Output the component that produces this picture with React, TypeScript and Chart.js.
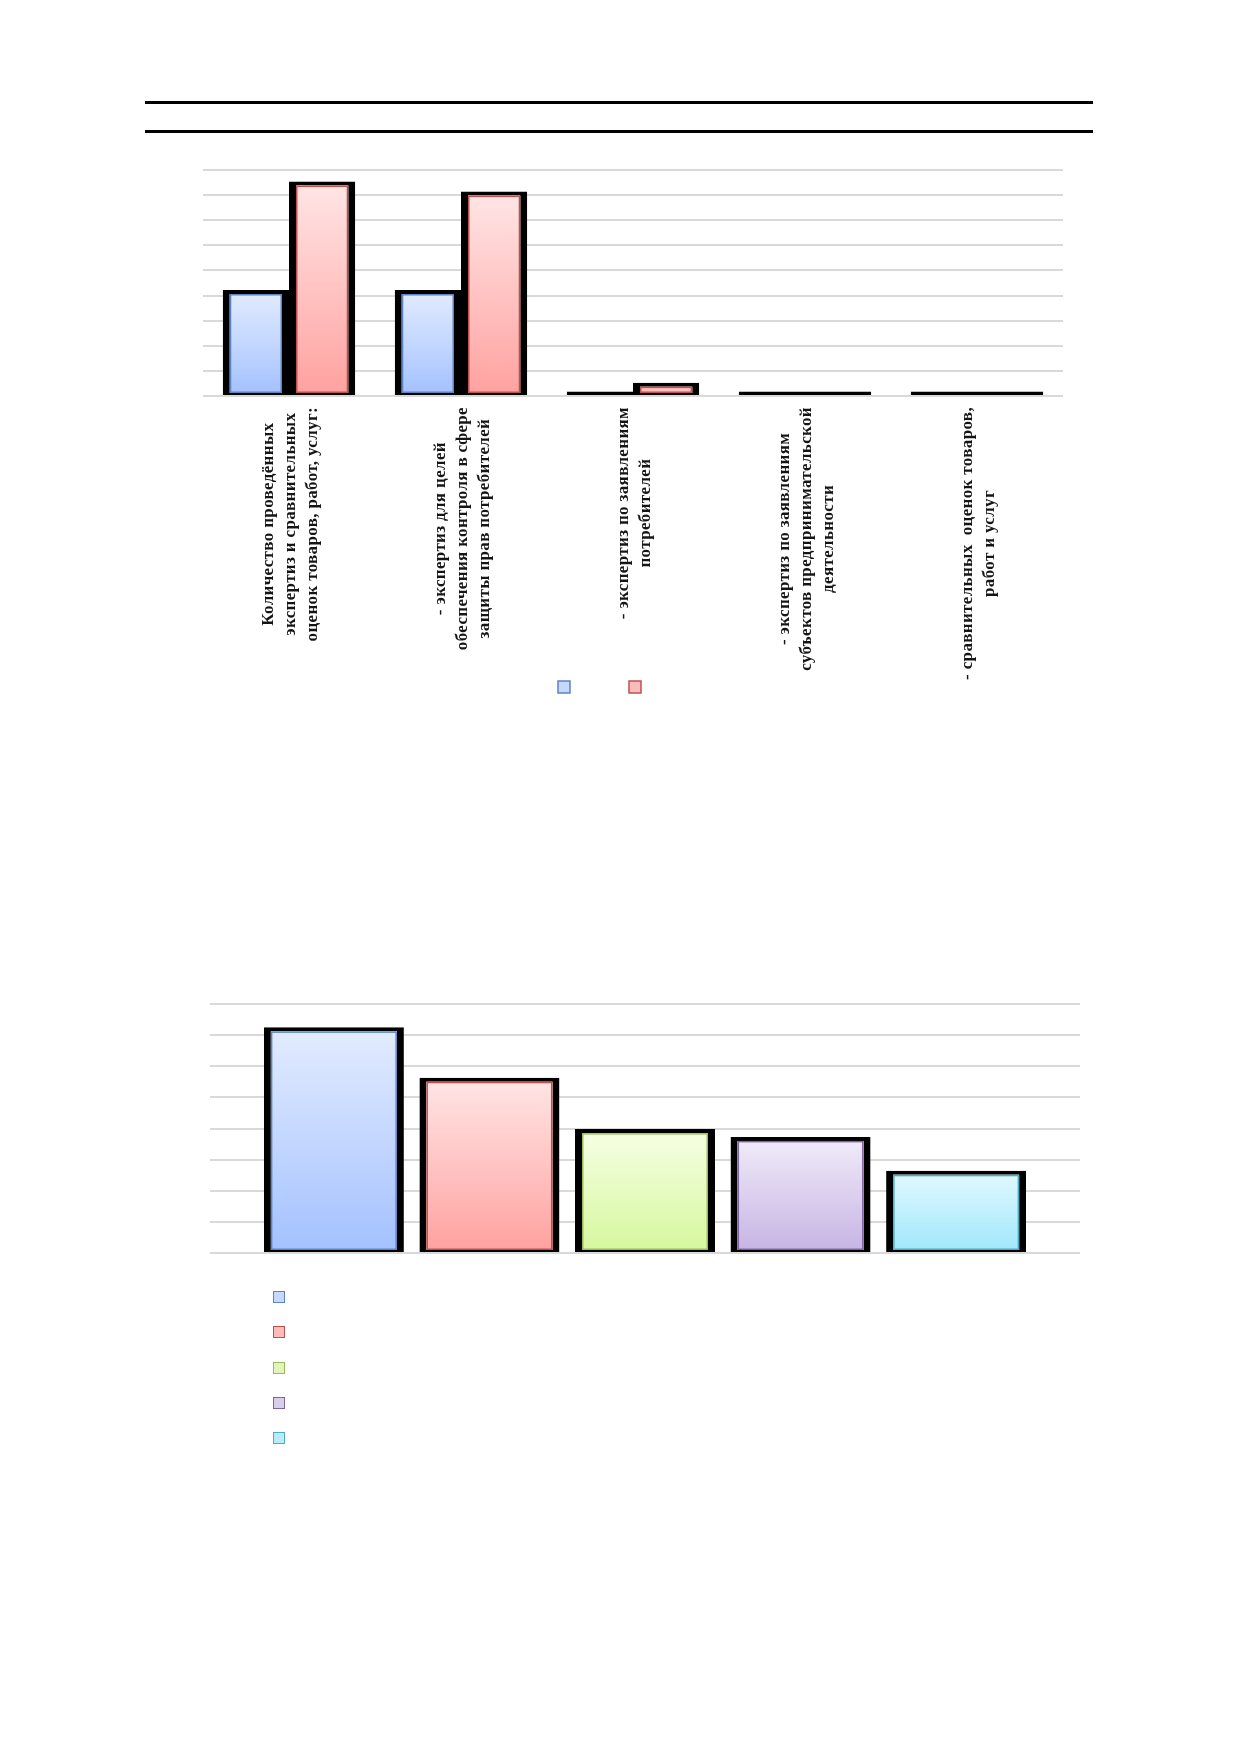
import React, { useEffect, useRef } from 'react';
import { Chart, registerables } from 'chart.js';
import type { ChartConfiguration, Plugin, ScriptableContext } from 'chart.js';

Chart.register(...registerables);

// ---- top chart data ----
const categories: string[][] = [
  ['Количество проведённых', 'экспертиз и сравнительных', 'оценок товаров, работ, услуг:'],
  ['- экспертиз для целей', 'обеспечения контроля в сфере', 'защиты прав потребителей'],
  ['- экспертиз по заявлениям', 'потребителей'],
  ['- экспертиз по заявлениям', 'субъектов предпринимательской', 'деятельности'],
  ['- сравнительных  оценок товаров,', 'работ и услуг'],
];
const topSeriesNames = ['', ''];
const topSeriesFirst = [4.22, 4.22, 0.18, 0.18, 0.18];
const topSeriesSecond = [8.54, 8.14, 0.53, 0.18, 0.18];
const topAxisMax = 9;

// ---- bottom chart data ----
const bottomCategory = [''];
const bottomSeriesNames = ['', '', '', '', ''];
const bottomValues = [7.25, 5.63, 3.98, 3.73, 2.64];
const bottomAxisMax = 8;

const palette = [
  { top: '#e3ecff', bottom: '#a3c1ff', edge: '#5a84c4', box: '#c6d8fc' },
  { top: '#ffe6e6', bottom: '#ffa19f', edge: '#c0504d', box: '#f9bcbb' },
  { top: '#f6ffe6', bottom: '#d6f79c', edge: '#9bbb59', box: '#e2f4bb' },
  { top: '#f1ecf9', bottom: '#c6b3e4', edge: '#8064a2', box: '#d8cdeb' },
  { top: '#e3f9ff', bottom: '#9fe7fb', edge: '#4bacc6', box: '#b8eaf7' },
];

const labelFont = 'bold 17px "Liberation Serif", serif';

// gradient per bar, from the bar's top down to the zero line
const barFill = (p: number) => (c: ScriptableContext<'bar'>) => {
  const chart = c.chart;
  const ys = chart.scales.y;
  const v = c.raw as number;
  if (!ys || typeof v !== 'number') return palette[p].bottom;
  const t = ys.getPixelForValue(v);
  const b = ys.getPixelForValue(0);
  if (!isFinite(t) || !isFinite(b) || b - t < 1) return palette[p].bottom;
  const g = chart.ctx.createLinearGradient(0, t, 0, b);
  g.addColorStop(0, palette[p].top);
  g.addColorStop(1, palette[p].bottom);
  return g;
};

const barStyle = {
  borderColor: '#000',
  borderWidth: { top: 4, left: 7, right: 7, bottom: 2 },
  borderSkipped: false as const,
};

// thin coloured line just inside the black frame
const innerEdge = (colors: string[]): Plugin<'bar'> => ({
  id: 'innerEdge',
  afterDatasetsDraw(chart) {
    const c = chart.ctx;
    chart.data.datasets.forEach((_, di) => {
      const meta = chart.getDatasetMeta(di);
      meta.data.forEach((el: any) => {
        const { x, y, base, width } = el.getProps(['x', 'y', 'base', 'width'], true);
        if (base - y < 12) return;
        c.save();
        c.strokeStyle = colors[di];
        c.lineWidth = 1.5;
        c.strokeRect(x - width / 2 + 7.75, y + 4.75, width - 15.5, base - y - 7.5);
        c.restore();
      });
    });
  },
});

// rotated multi-line category labels, lines centred on each other
const rotatedLabels: Plugin<'bar'> = {
  id: 'rotatedLabels',
  afterDraw(chart) {
    const xs = chart.scales.x;
    const c = chart.ctx as any;
    c.save();
    c.font = labelFont;
    c.letterSpacing = '0.35px';
    c.fillStyle = '#151515';
    c.textAlign = 'center';
    c.textBaseline = 'middle';
    categories.forEach((lines, i) => {
      const x = xs.getPixelForTick(i) + 1.5;
      const maxW = Math.max(...lines.map((l) => c.measureText(l).width));
      c.save();
      c.translate(x, xs.top + 11 + maxW / 2);
      c.rotate(-Math.PI / 2);
      lines.forEach((l, j) => c.fillText(l, 0, (j - (lines.length - 1) / 2) * 21.8));
      c.restore();
    });
    c.restore();
  },
};

const hiddenX = {
  grid: { display: false },
  border: { display: false },
  ticks: { display: false },
};

const gridY = (max: number) => ({
  min: 0,
  max,
  ticks: { display: false, stepSize: 1 },
  grid: { color: '#d9d9d9', lineWidth: 2, drawTicks: false },
  border: { display: false },
});

const TopChart = () => {
  const ref = useRef<HTMLCanvasElement>(null);
  useEffect(() => {
    if (!ref.current) return;
    const config: ChartConfiguration<'bar'> = {
      type: 'bar',
      data: {
        labels: categories,
        datasets: [topSeriesFirst, topSeriesSecond].map((d, i) => ({
          label: topSeriesNames[i],
          data: d,
          backgroundColor: barFill(i),
          ...barStyle,
          categoryPercentage: 0.77,
          barPercentage: 1,
        })),
      },
      options: {
        responsive: true,
        maintainAspectRatio: false,
        animation: false,
        layout: { padding: { top: 20, left: 0, right: 0, bottom: 0 } },
        scales: {
          x: { ...hiddenX, afterFit: (s: any) => { s.height = 232; } },
          y: { ...gridY(topAxisMax), afterFit: (s: any) => { s.width = 61; } },
        },
        plugins: {
          tooltip: { enabled: false },
          legend: {
            position: 'bottom',
            labels: {
              boxWidth: 12,
              boxHeight: 12,
              padding: 53,
              font: { size: 12 },
              generateLabels: (chart) =>
                chart.data.datasets.map((ds, i) => ({
                  text: ds.label as string,
                  fillStyle: palette[i].box,
                  strokeStyle: palette[i].edge,
                  lineWidth: 1.5,
                  hidden: false,
                  datasetIndex: i,
                })),
            },
          },
        },
      },
      plugins: [innerEdge([palette[0].edge, palette[1].edge]), rotatedLabels],
    };
    const chart = new Chart(ref.current, config);
    return () => chart.destroy();
  }, []);
  return (
    <div style={{ position: 'absolute', left: 142, top: 150, width: 921, height: 553 }}>
      <canvas ref={ref}></canvas>
    </div>
  );
};

const BottomChart = () => {
  const ref = useRef<HTMLCanvasElement>(null);
  useEffect(() => {
    if (!ref.current) return;
    const config: ChartConfiguration<'bar'> = {
      type: 'bar',
      data: {
        labels: bottomCategory,
        datasets: bottomValues.map((v, i) => ({
          label: bottomSeriesNames[i],
          data: [v],
          backgroundColor: barFill(i),
          ...barStyle,
          categoryPercentage: 0.894,
          barPercentage: 0.9,
        })),
      },
      options: {
        responsive: true,
        maintainAspectRatio: false,
        animation: false,
        layout: { padding: { top: 4, left: 0, right: 0, bottom: 4 } },
        scales: {
          x: { display: false },
          y: gridY(bottomAxisMax),
        },
        plugins: { legend: { display: false }, tooltip: { enabled: false } },
      },
      plugins: [innerEdge(palette.map((p) => p.edge))],
    };
    const chart = new Chart(ref.current, config);
    return () => chart.destroy();
  }, []);
  return (
    <>
      <div style={{ position: 'absolute', left: 210, top: 1000, width: 870, height: 257 }}>
        <canvas ref={ref}></canvas>
      </div>
      {bottomSeriesNames.map((name, i) => (
        <div
          key={i}
          style={{ position: 'absolute', left: 273, top: 1291 + i * 35.3, display: 'flex', alignItems: 'center', gap: 8 }}
        >
          <span
            style={{
              width: 12,
              height: 12,
              boxSizing: 'border-box',
              border: `1.5px solid ${palette[i].edge}`,
              background: palette[i].box,
            }}
          />
          <span style={{ fontFamily: '"Liberation Serif", serif', fontSize: 14 }}>{name}</span>
        </div>
      ))}
    </>
  );
};

export default function App() {
  return (
    <div style={{ position: 'absolute', left: 0, top: 0, width: 1237, height: 1754, background: '#fff' }}>
      <div style={{ position: 'absolute', left: 145, top: 101, width: 948, height: 3, background: '#000' }} />
      <div style={{ position: 'absolute', left: 145, top: 130, width: 948, height: 3, background: '#000' }} />
      <TopChart />
      <BottomChart />
    </div>
  );
}
